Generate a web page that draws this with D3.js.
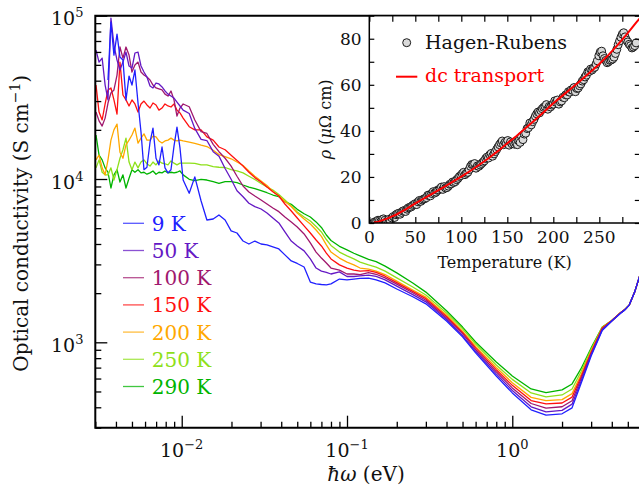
<!DOCTYPE html>
<html>
<head>
<meta charset="utf-8">
<script src="https://cdn.jsdelivr.net/npm/d3@7/dist/d3.min.js"></script>
<style>
body { margin: 0; background: #fff; }
svg { display: block; font-family: "DejaVu Serif", serif; }
</style>
</head>
<body>
<svg id="chart" width="639" height="491"></svg>
<script>
// photon energy (eV), shared by all spectra
var energy = [
	0.00303, 0.00316, 0.00330, 0.00344, 0.00358, 0.00373, 0.00389, 0.00406, 0.00423, 0.00441,
	0.00460, 0.00480, 0.00500, 0.00521, 0.00544, 0.00567, 0.00591, 0.00616, 0.00643, 0.00670,
	0.00699, 0.00728, 0.00760, 0.00792, 0.00826, 0.00861, 0.00898, 0.00936, 0.00976, 0.0102,
	0.0111, 0.0120, 0.0131, 0.0142, 0.0155, 0.0168, 0.0183, 0.0199, 0.0216, 0.0235,
	0.0255, 0.0277, 0.0302, 0.0328, 0.0356, 0.0387, 0.0421,
	0.046, 0.05, 0.055, 0.06, 0.065, 0.07, 0.075, 0.08, 0.09, 0.1,
	0.11, 0.12, 0.135, 0.15, 0.17, 0.2, 0.25, 0.3, 0.4, 0.5,
	0.6, 0.8, 1.0, 1.3, 1.6, 2.0, 2.3, 2.6, 3.0, 3.5,
	4.0, 4.5, 4.8, 5.1, 5.5, 5.9
];

// optical conductivity (S/cm) per temperature
var sigma9K = [
	null, null, null, null, 40400, 91400, 57400, 77200, 55800, 53500,
	30500, 42700, 37600, 46500, 29200, 19400, 11400, 11800, 16800, 20500,
	13400, 12200, 15700, 11700, 10900, 11400, 15900, 20800, 15500, 9860,
	8180, 10300, 7330, 5610, 5690, 6020, 5610, 4810, 4670, 4170,
	4000, 4170, 4000, 3950, 3840, 3730, 3430,
	3150, 3040, 2890, 2340, 2280, 2260, 2250, 2280, 2440, 2410,
	2440, 2460, 2470, 2410, 2310, 2120, 1900, 1720, 1350, 1080,
	861, 622, 490, 386, 358, 365, 397, 556, 825, 1180,
	1350, 1500, 1580, 1690, 2030, 2550
];
var sigma50K = [
	61600, 52000, 55000, 37600, 30500, 96700, 66100, 53500, 46500, 52000,
	59900, 49200, 47800, 59100, 59900, 49200, 45200, 42100, 37100, 36100,
	38700, 38200, 36600, 34600, 33100, 32200, 31300, 29600, 28000, 26400,
	25200, 20400, 17500, 17200, 14700, 13800, 11600, 9960, 8480, 7790,
	7100, 6770, 6550, 6190, 5770, 5380, 4740,
	4170, 3890, 3630, 3240, 2850, 2730, 2680, 2620, 2700, 2530,
	2530, 2550, 2580, 2530, 2410, 2210, 1960, 1770, 1380, 1100,
	881, 641, 507, 403, 375, 383, 418, 574, 839, 1190,
	1350, 1500, 1580, 1690, 2030, 2550
];
var sigma100K = [
	25700, 22700, 21100, 23600, 29200, 33600, 35100, 43300, 64300, 55000,
	64300, 57400, 45200, 49900, 52000, 45200, 43300, 42100, 40400, 37600,
	36100, 35600, 35100, 33100, 32200, 34600, 30500, 24300, 27200, 28800,
	27700, 23000, 19500, 19000, 16300, 14700, 13400, 12000, 10400, 9060,
	8330, 7870, 7440, 7030, 6650, 6310, 5850,
	5460, 5080, 4610, 4060, 3570, 3280, 3060, 2850, 2770, 2620,
	2620, 2600, 2670, 2610, 2480, 2270, 2010, 1810, 1410, 1130,
	902, 660, 526, 422, 395, 403, 439, 593, 853, 1210,
	1350, 1510, 1590, 1690, 2030, 2550
];
var sigma150K = [
	37600, 25700, 23000, 28800, 35100, 36100, 30500, 25000, 52000, 32700,
	30500, 28000, 30500, 28800, 25700, 28800, 30000, 28400, 27200, 29200,
	28400, 26400, 27200, 28800, 28000, 27600, 28800, 26400, 25400, 23600,
	20900, 20000, 20000, 18100, 17300, 15700, 15100, 14000, 13000, 12000,
	11000, 10200, 9590, 8930, 8360, 7870, 7030,
	6370, 5770, 5160, 4670, 4230, 3890, 3520, 3240, 2980, 2850,
	2770, 2730, 2750, 2680, 2540, 2320, 2050, 1850, 1440, 1150,
	924, 680, 545, 440, 420, 425, 462, 611, 868, 1220,
	1360, 1510, 1590, 1690, 2030, 2550
];
var sigma200K = [
	13100, 14000, 11700, 10600, 13100, 17300, 20000, 21700, 14600, 13400,
	16200, 17300, 18600, 20500, 16600, 17800, 18900, 17300, 17300, 18300,
	18100, 17100, 16600, 17100, 17300, 17800, 17300, 17100, 17300, 17100,
	16800, 16500, 16100, 15800, 15000, 14100, 13700, 13300, 12700, 12100,
	11200, 10400, 9720, 9130, 8380, 7870, 7280,
	6790, 6190, 5690, 5300, 4870, 4450, 3950, 3570, 3280, 3100,
	2980, 2850, 2810, 2730, 2600, 2370, 2090, 1890, 1470, 1170,
	944, 701, 566, 460, 440, 446, 485, 631, 883, 1230,
	1360, 1510, 1590, 1690, 2030, 2550
];
var sigma250K = [
	11700, 13100, 11000, 10600, 10600, 11700, 9860, 11400, 13400, 15100,
	17800, 12700, 11400, 12700, 11700, 12700, 13100, 12400, 12000, 12700,
	12200, 12900, 12500, 12400, 12200, 12900, 12500, 12200, 12500, 12500,
	12500, 12470, 12200, 12200, 11900, 11800, 11760, 11400, 11200, 10900,
	10400, 9930, 9390, 8930, 8560, 8040, 7440,
	6830, 6280, 5850, 5530, 5120, 4740, 4260, 3920, 3570, 3380,
	3240, 3100, 2980, 2890, 2730, 2480, 2180, 1950, 1510, 1210,
	977, 727, 593, 490, 463, 476, 518, 658, 905, 1230,
	1360, 1510, 1590, 1690, 2030, 2550
];
var sigma290K = [
	18600, 14000, 13100, 11700, 11000, 8810, 10600, 11400, 9590, 10600,
	8810, 10100, 11400, 11000, 11400, 10900, 11000, 10700, 10900, 11200,
	10700, 11000, 10900, 11200, 10900, 11000, 10900, 11000, 11200, 10600,
	9960, 9760, 9960, 9860, 9630, 9410, 9630, 9630, 9490, 9190,
	8930, 8720, 8480, 8240, 7980, 7790, 7260,
	7000, 6520, 6130, 5850, 5460, 5050, 4540, 4200, 3870, 3680,
	3510, 3380, 3220, 3120, 2930, 2660, 2310, 2030, 1560, 1240,
	1005, 758, 622, 518, 492, 511, 556, 687, 924, 1240,
	1360, 1510, 1590, 1690, 2030, 2550
];

var seriesLabels = ["9 K", "50 K", "100 K", "150 K", "200 K", "250 K", "290 K"];
var seriesColors = ["#2020ff", "#6418c4", "#a0186e", "#ff1010", "#ffa800", "#8ee01a", "#00b400"];
var seriesValues = [sigma9K, sigma50K, sigma100K, sigma150K, sigma200K, sigma250K, sigma290K];

// inset: Hagen-Rubens resistivity (micro-ohm cm), two interleaved runs
var hrTempA = [
	5, 8, 11, 14, 17, 20, 23, 26, 29, 32, 35, 38, 41, 44, 47, 50, 53, 56, 59, 62,
	65, 68, 71, 74, 77, 80, 83, 86, 89, 92, 95, 98, 101, 104, 107, 110, 113, 116, 119, 122,
	125, 128, 131, 134, 137, 140, 143, 146, 149, 152, 155, 158, 161, 164, 167, 170, 173, 176, 179, 182,
	185, 188, 191, 194, 197, 200, 203, 206, 209, 212, 215, 218, 221, 224, 227, 230, 233, 236, 239, 242,
	245, 248, 251, 254, 257, 260, 263, 266, 269, 272, 275, 278, 281, 284, 287, 290
];
var hrRhoA = [
	0.3, 0.8, 1.0, 1.5, 1.2, 1.0, 0.8, 2.8, 3.6, 4.2, 4.6, 5.4, 6.0, 6.8, 7.6, 8.4, 9.2, 9.4, 10.4, 11.0,
	12.2, 12.8, 13.0, 14.2, 15.0, 14.6, 15.2, 16.0, 17.0, 17.6, 18.8, 20.2, 21.4, 21.0, 22.0, 24.6, 25.4, 23.8, 24.6, 25.8,
	27.0, 28.6, 29.6, 29.0, 31.0, 33.0, 34.8, 34.0, 34.6, 33.8, 34.4, 34.2, 34.0, 35.0, 36.2, 39.0, 41.4, 42.6, 45.0, 47.4,
	47.8, 49.6, 50.6, 49.4, 50.4, 51.6, 52.4, 51.6, 53.0, 54.4, 55.6, 56.8, 57.6, 57.0, 58.6, 60.4, 62.2, 64.2, 65.8, 66.4,
	67.6, 70.4, 74.2, 72.6, 70.6, 70.0, 70.8, 72.0, 75.4, 79.0, 82.0, 80.8, 78.6, 77.0, 76.4, 78.2
];
var hrTempB = [
	6.5, 9.5, 12.5, 15.5, 18.5, 21.5, 24.5, 27.5, 30.5, 33.5, 36.5, 39.5, 42.5, 45.5, 48.5, 51.5, 54.5, 57.5, 60.5, 63.5,
	66.5, 69.5, 72.5, 75.5, 78.5, 81.5, 84.5, 87.5, 90.5, 93.5, 96.5, 99.5, 102.5, 105.5, 108.5, 111.5, 114.5, 117.5, 120.5, 123.5,
	126.5, 129.5, 132.5, 135.5, 138.5, 141.5, 144.5, 147.5, 150.5, 153.5, 156.5, 159.5, 162.5, 165.5, 168.5, 171.5, 174.5, 177.5, 180.5, 183.5,
	186.5, 189.5, 192.5, 195.5, 198.5, 201.5, 204.5, 207.5, 210.5, 213.5, 216.5, 219.5, 222.5, 225.5, 228.5, 231.5, 234.5, 237.5, 240.5, 243.5,
	246.5, 249.5, 252.5, 255.5, 258.5, 261.5, 264.5, 267.5, 270.5, 273.5, 276.5, 279.5, 282.5, 285.5, 288.5
];
var hrRhoB = [
	0.5, 1.2, 0.6, 1.8, 0.4, 1.6, 2.2, 2.4, 4.0, 3.8, 5.2, 5.0, 6.6, 7.0, 8.0, 8.0, 9.8, 10.0, 10.6, 12.0,
	11.8, 13.6, 13.4, 14.4, 15.6, 15.8, 15.4, 16.8, 17.8, 18.0, 19.4, 20.6, 22.0, 21.6, 23.2, 25.4, 25.8, 24.8, 25.2, 26.4,
	28.0, 28.2, 30.2, 30.0, 32.0, 34.0, 35.6, 35.0, 35.8, 35.2, 35.0, 34.6, 35.6, 37.6, 38.6, 41.0, 43.4, 44.0, 46.4, 48.2,
	48.8, 50.2, 51.4, 50.6, 51.2, 53.0, 53.4, 52.6, 54.6, 55.6, 57.0, 57.8, 58.8, 58.4, 59.6, 61.6, 63.4, 65.6, 66.8, 67.2,
	69.0, 72.6, 74.6, 71.4, 69.6, 70.6, 71.2, 73.6, 77.4, 80.6, 82.6, 79.4, 77.6, 76.0, 77.0
];
// dc transport resistivity
var dcTemp = [5, 10, 20, 30, 40, 50, 60, 70, 80, 90, 100, 110, 120, 130, 140, 150, 160, 170, 180, 190, 200, 210, 220, 230, 240, 250, 260, 270, 280, 290, 296];
var dcRho = [0.2, 0.6, 2.0, 3.8, 6.0, 8.5, 10.8, 13.1, 15.4, 17.7, 20.1, 22.7, 25.4, 28.2, 31.3, 34.6, 37.8, 41.2, 44.7, 48.3, 52.0, 55.3, 58.6, 62.0, 65.5, 69.0, 73.0, 77.3, 82.0, 87.0, 89.8];

var xMajor = [0.01, 0.1, 1];
var xMajorExp = ["\u22122", "\u22121", "0"];
var yMajor = [1e3, 1e4, 1e5];
var yMajorExp = ["3", "4", "5"];

var svg = d3.select("#chart");
var plot = {left: 95.3, right: 640.9, top: 15.7, bottom: 427.7};
var x = d3.scaleLog().domain([0.003, 6]).range([plot.left, plot.right]);
var y = d3.scaleLog().domain([300, 1e5]).range([plot.bottom, plot.top]);

function minorTicks(lo, hi) {
	var out = [];
	[0.001, 0.01, 0.1, 1, 10, 100, 1000, 10000].forEach(function(dec) {
		for (var k = 2; k <= 9; k++) {
			var v = k * dec;
			if (v >= lo && v <= hi) out.push(v);
		}
	});
	return out;
}

svg.append("clipPath").attr("id", "plotclip")
	.append("rect")
	.attr("x", plot.left).attr("y", plot.top)
	.attr("width", plot.right - plot.left).attr("height", plot.bottom - plot.top);

// spectra, 290 K underneath, 9 K on top
var line = d3.line()
	.defined(function(d) { return d[1] != null; })
	.x(function(d) { return x(d[0]); })
	.y(function(d) { return y(d[1]); });

var curves = svg.append("g").attr("clip-path", "url(#plotclip)");
for (var i = seriesValues.length - 1; i >= 0; i--) {
	var pts = energy.map(function(e, j) { return [e, seriesValues[i][j]]; });
	curves.append("path")
		.attr("d", line(pts))
		.attr("fill", "none")
		.attr("stroke", seriesColors[i])
		.attr("stroke-width", 1.3)
		.attr("stroke-linejoin", "round");
}

// main axes
var axes = svg.append("g").attr("stroke", "#000");
axes.append("g")
	.attr("transform", "translate(0," + plot.bottom + ")")
	.call(d3.axisBottom(x).tickValues(xMajor).tickSize(-12).tickFormat(""));
axes.append("g")
	.attr("transform", "translate(0," + plot.bottom + ")")
	.call(d3.axisBottom(x).tickValues(minorTicks(0.003, 6)).tickSize(-6).tickFormat(""));
axes.append("g")
	.attr("transform", "translate(" + plot.left + ",0)")
	.call(d3.axisLeft(y).tickValues(yMajor).tickSize(-12).tickFormat(""));
axes.append("g")
	.attr("transform", "translate(" + plot.left + ",0)")
	.call(d3.axisLeft(y).tickValues(minorTicks(300, 1e5)).tickSize(-6).tickFormat(""));
axes.selectAll(".domain").remove();
axes.selectAll(".tick line").attr("stroke", "#000").attr("stroke-width", 1.3);

svg.append("path")
	.attr("d", "M" + plot.right + "," + plot.top + "H" + plot.left + "V" + plot.bottom + "H" + plot.right)
	.attr("fill", "none")
	.attr("stroke", "#000")
	.attr("stroke-width", 2);

xMajor.forEach(function(v, i) {
	var t = svg.append("text")
		.attr("x", x(v)).attr("y", 456.7)
		.attr("text-anchor", "middle")
		.attr("font-size", 19)
		.attr("fill", "#111");
	t.append("tspan").text("10");
	t.append("tspan").attr("dy", -8).attr("font-size", 13).text(xMajorExp[i]);
});
yMajor.forEach(function(v, i) {
	var t = svg.append("text")
		.attr("x", 83.5).attr("y", y(v) + 9.5)
		.attr("text-anchor", "end")
		.attr("font-size", 19)
		.attr("fill", "#111");
	t.append("tspan").text("10");
	t.append("tspan").attr("dy", -8).attr("font-size", 13).text(yMajorExp[i]);
});

var xl = svg.append("text")
	.attr("x", 366).attr("y", 481)
	.attr("text-anchor", "middle")
	.attr("font-size", 20)
	.attr("fill", "#111");
xl.append("tspan").attr("font-style", "italic").text("\u0127\u03c9");
xl.append("tspan").text(" (eV)");

var yl = svg.append("text")
	.attr("transform", "translate(28.3,223.3) rotate(-90)")
	.attr("text-anchor", "middle")
	.attr("font-size", 20)
	.attr("fill", "#111");
yl.append("tspan").text("Optical conductivity (S cm");
yl.append("tspan").attr("dy", -8).attr("font-size", 14).text("\u22121");
yl.append("tspan").attr("dy", 8).text(")");

// legend
var legend = svg.append("g");
seriesLabels.forEach(function(lab, i) {
	var ly = 223.3 + 27.2 * i;
	legend.append("line")
		.attr("x1", 123).attr("x2", 144)
		.attr("y1", ly).attr("y2", ly)
		.attr("stroke", seriesColors[i])
		.attr("stroke-opacity", 0.75)
		.attr("stroke-width", 1.3);
	legend.append("text")
		.attr("x", 151.7).attr("y", ly + 7.4)
		.attr("font-size", 20)
		.attr("fill", seriesColors[i])
		.text(lab);
});

// inset
var inset = {left: 369.3, right: 639.8, top: 15.7, bottom: 223};
var tx = d3.scaleLinear().domain([0, 294]).range([inset.left, inset.right]);
var ty = d3.scaleLinear().domain([0, 90]).range([inset.bottom, inset.top]);

svg.append("rect")
	.attr("x", inset.left).attr("y", inset.top)
	.attr("width", inset.right - inset.left).attr("height", inset.bottom - inset.top)
	.attr("fill", "#fff");

svg.append("clipPath").attr("id", "insetclip")
	.append("rect")
	.attr("x", inset.left).attr("y", inset.top)
	.attr("width", inset.right - inset.left).attr("height", inset.bottom - inset.top);

var hrPoints = hrTempA.map(function(t, i) { return [t, hrRhoA[i]]; })
	.concat(hrTempB.map(function(t, i) { return [t, hrRhoB[i]]; }))
	.sort(function(a, b) { return a[0] - b[0]; });

var ig = svg.append("g").attr("clip-path", "url(#insetclip)");
ig.selectAll("circle")
	.data(hrPoints)
	.enter()
	.append("circle")
	.attr("cx", function(d) { return tx(d[0]); })
	.attr("cy", function(d) { return ty(d[1]); })
	.attr("r", 4)
	.attr("fill", "#dadada")
	.attr("stroke", "#1a1a1a")
	.attr("stroke-width", 1);
ig.append("path")
	.attr("d", d3.line()
		.x(function(d) { return tx(d); })
		.y(function(d, i) { return ty(dcRho[i]); })(dcTemp))
	.attr("fill", "none")
	.attr("stroke", "#ff0000")
	.attr("stroke-width", 2);

var tTicks = d3.range(0, 294, 25);
var rTicks = d3.range(0, 91, 10);
var iax = svg.append("g");
iax.append("g").attr("transform", "translate(0," + inset.bottom + ")")
	.call(d3.axisBottom(tx).tickValues(tTicks).tickSize(-6).tickFormat(""));
iax.append("g").attr("transform", "translate(0," + inset.top + ")")
	.call(d3.axisTop(tx).tickValues(tTicks).tickSize(-6).tickFormat(""));
iax.append("g").attr("transform", "translate(" + inset.left + ",0)")
	.call(d3.axisLeft(ty).tickValues(rTicks).tickSize(-5).tickFormat(""));
iax.append("g").attr("transform", "translate(" + inset.right + ",0)")
	.call(d3.axisRight(ty).tickValues(rTicks).tickSize(-5).tickFormat(""));
iax.selectAll(".domain").remove();
iax.selectAll(".tick line").attr("stroke", "#000").attr("stroke-width", 1.2);

svg.append("rect")
	.attr("x", inset.left).attr("y", inset.top)
	.attr("width", inset.right - inset.left).attr("height", inset.bottom - inset.top)
	.attr("fill", "none")
	.attr("stroke", "#000")
	.attr("stroke-width", 1.5);

d3.range(0, 251, 50).forEach(function(v) {
	svg.append("text")
		.attr("x", tx(v)).attr("y", 243)
		.attr("text-anchor", "middle")
		.attr("font-size", 17)
		.attr("fill", "#111")
		.text(v);
});
d3.range(0, 81, 20).forEach(function(v) {
	svg.append("text")
		.attr("x", 361.7).attr("y", ty(v) + 6)
		.attr("text-anchor", "end")
		.attr("font-size", 17)
		.attr("fill", "#111")
		.text(v);
});

svg.append("text")
	.attr("x", (inset.left + inset.right) / 2).attr("y", 268)
	.attr("text-anchor", "middle")
	.attr("font-size", 16)
	.attr("fill", "#111")
	.text("Temperature (K)");

var il = svg.append("text")
	.attr("transform", "translate(331," + ((inset.top + inset.bottom) / 2) + ") rotate(-90)")
	.attr("text-anchor", "middle")
	.attr("font-size", 16)
	.attr("fill", "#111");
il.append("tspan").attr("font-style", "italic").text("\u03c1");
il.append("tspan").text(" (");
il.append("tspan").attr("font-style", "italic").text("\u03bc");
il.append("tspan").text("\u03a9 cm)");

svg.append("circle")
	.attr("cx", 406.7).attr("cy", 42.7).attr("r", 4)
	.attr("fill", "#dadada").attr("stroke", "#1a1a1a").attr("stroke-width", 1);
svg.append("text")
	.attr("x", 425).attr("y", 48.5)
	.attr("font-size", 19)
	.attr("fill", "#111")
	.text("Hagen-Rubens");
svg.append("line")
	.attr("x1", 396).attr("x2", 417.3)
	.attr("y1", 76.7).attr("y2", 76.7)
	.attr("stroke", "#ff0000").attr("stroke-width", 2);
svg.append("text")
	.attr("x", 425).attr("y", 82)
	.attr("font-size", 19)
	.attr("fill", "#ff0000")
	.text("dc transport");
</script>
</body>
</html>
